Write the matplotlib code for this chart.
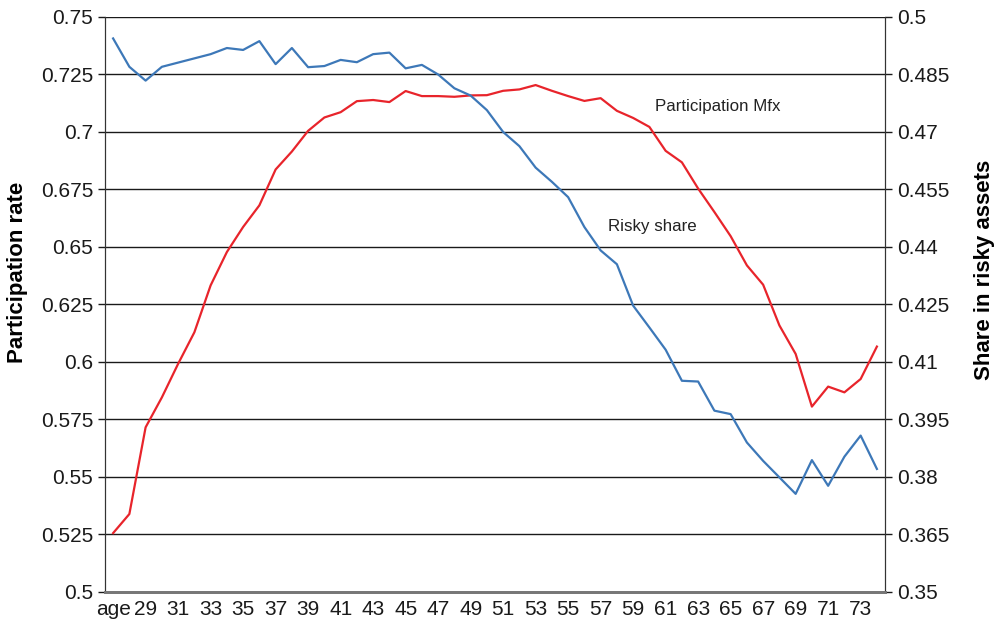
import matplotlib
matplotlib.use("Agg")
import matplotlib.pyplot as plt

plt.rcParams['font.family'] = ['Liberation Sans', 'DejaVu Sans']

# x categories: first one is labelled "age" (ages 27..74)
categories = ["age"] + [str(a) for a in range(28, 75)]

# participation rate (left axis)
participation = [
    0.5256, 0.5339, 0.5716, 0.5846, 0.5992, 0.6129, 0.6333, 0.6478, 0.6587, 0.6681,
    0.6837, 0.6915, 0.7005, 0.7063, 0.7086, 0.7134, 0.7139, 0.7130, 0.7178, 0.7156,
    0.7156, 0.7153, 0.7159, 0.7160, 0.7179, 0.7185, 0.7204, 0.7179, 0.7156, 0.7135,
    0.7147, 0.7092, 0.7061, 0.7022, 0.6918, 0.6868, 0.6754, 0.6652, 0.6547, 0.6420,
    0.6336, 0.6159, 0.6035, 0.5806, 0.5893, 0.5868, 0.5926, 0.6067,
]

# share in risky assets (right axis)
risky_share = [
    0.4944, 0.4870, 0.4834, 0.4870, 0.4881, 0.4892, 0.4903, 0.4919, 0.4914, 0.4937,
    0.4877, 0.4919, 0.4869, 0.4872, 0.4888, 0.4882, 0.4903, 0.4907, 0.4866, 0.4875,
    0.4850, 0.4814, 0.4795, 0.4757, 0.4700, 0.4663, 0.4607, 0.4570, 0.4530, 0.4452,
    0.4391, 0.4355, 0.4247, 0.4190, 0.4132, 0.4051, 0.4049, 0.3973, 0.3964, 0.3890,
    0.3842, 0.3799, 0.3756, 0.3844, 0.3777, 0.3853, 0.3908, 0.3821,
]

left_ticks = [0.5, 0.525, 0.55, 0.575, 0.6, 0.625, 0.65, 0.675, 0.7, 0.725, 0.75]
right_ticks = [0.35, 0.365, 0.38, 0.395, 0.41, 0.425, 0.44, 0.455, 0.47, 0.485, 0.5]

fig = plt.figure(figsize=(9.98, 6.24), dpi=100)
ax = fig.add_axes([0.1052, 0.0513, 0.7816, 0.9215])
ax2 = ax.twinx()

x = list(range(len(categories)))
ax.plot(x, participation, color="#e8242b", lw=1.6, zorder=3)
ax2.plot(x, risky_share, color="#3d78b8", lw=1.6, zorder=3)

ax.set_xlim(-0.5, len(categories) - 0.5)
ax.set_ylim(0.5, 0.75)
ax2.set_ylim(0.35, 0.5)

ax.set_yticks(left_ticks)
ax.set_yticklabels([f"{t:g}" for t in left_ticks])
ax2.set_yticks(right_ticks)
ax2.set_yticklabels([f"{t:g}" for t in right_ticks])

ax.set_xticks(x[::2])
ax.set_xticklabels(categories[::2])

for t in left_ticks[1:]:
    ax.axhline(t, color="#1a1a1a", lw=1.0, zorder=1)

ax.tick_params(axis="x", length=0, labelsize=15, pad=6, colors="#1a1a1a")
ax.tick_params(axis="y", length=5, width=1, labelsize=15, colors="#1a1a1a")
ax2.tick_params(axis="y", length=5, width=1, labelsize=15, colors="#1a1a1a")

for a in (ax, ax2):
    a.spines["top"].set_visible(False)
    a.spines["left"].set_color("#333333")
    a.spines["right"].set_color("#333333")
    a.spines["bottom"].set_color("#777777")
    a.spines["bottom"].set_linewidth(2)

# axis titles, placed like in the original (a bit above the axes centre)
fig.text(0.0175, 0.564, "Participation rate", rotation=90, fontsize=16,
         fontweight="bold", ha="center", va="center")
fig.text(0.986, 0.567, "Share in risky assets", rotation=90, fontsize=16,
         fontweight="bold", ha="center", va="center")

ax.text(33.35, 0.7109, "Participation Mfx", fontsize=12.2, va="center", color="#222222")
ax2.text(30.45, 0.4454, "Risky share", fontsize=12.2, va="center", color="#222222")

fig.savefig("out.png", dpi=100)
